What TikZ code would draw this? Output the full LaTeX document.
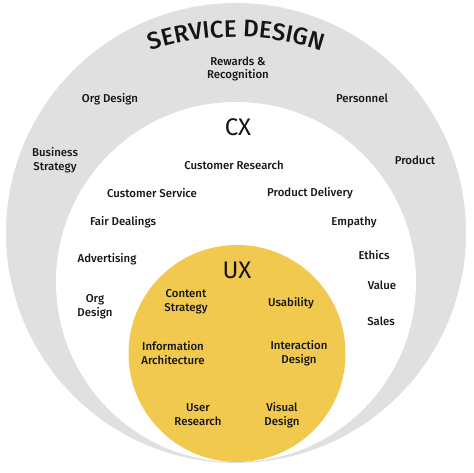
\documentclass[tikz,border=0pt]{standalone}
\usepackage{fontspec}
\setmainfont{Fira Sans}
\newfontfamily\medfont{Fira Sans Medium}
\usetikzlibrary{decorations.text}
\definecolor{sdgray}{HTML}{E0E0E0}
\definecolor{uxyellow}{HTML}{F1C94F}
\definecolor{ink}{HTML}{151515}
\begin{document}
\begin{tikzpicture}[x=1pt,y=1pt,
  lbl/.style={font=\medfont\fontsize{11.4}{13.8}\selectfont, align=center, text=ink, inner sep=0pt},
  big/.style={font=\fontsize{24}{26}\selectfont, text=ink, inner sep=0pt}]
\useasboundingbox (0,0) rectangle (474,472);
% circles
\fill[sdgray] (236,239) circle[radius=230pt];
\fill[white] (236,190) circle[radius=180pt];
\fill[uxyellow] (237,118.5) circle[radius=108.5pt];
% curved title
\path[decorate, decoration={text along path, text align=center,
  text={|\medfont\fontsize{24}{26}\selectfont\color{ink}|SERVICE DESIGN}}]
  (236,166) ++(120:269pt) arc[start angle=120, end angle=60, radius=269pt];
% CX ring labels
\node[lbl] (rr) at (238,403) {Rewards \&\\Recognition};
\node[lbl] (od) at (110,373) {Org Design};
\node[lbl] (pe) at (362,374) {Personnel};
\node[lbl] (bs) at (55,312) {Business\\Strategy};
\node[lbl] (pr) at (415,312) {Product};
\node[big] (cx) at (238,345) {CX};
% CX labels
\node[lbl] (crs) at (234,307) {Customer Research};
\node[lbl] (cs) at (152,279) {Customer Service};
\node[lbl] (pd) at (310,279) {Product Delivery};
\node[lbl] (fd) at (123,250) {Fair Dealings};
\node[lbl] (em) at (354,250) {Empathy};
\node[lbl] (ad) at (107,213) {Advertising};
\node[lbl] (et) at (374,217) {Ethics};
\node[lbl] (va) at (382,187) {Value};
\node[lbl] (od2) at (95,165) {Org\\Design};
\node[lbl] (sa) at (381,151) {Sales};
% UX
\node[big] (ux) at (237,202) {UX};
\node[lbl] (cst) at (186,170) {Content\\Strategy};
\node[lbl] (us) at (291,169) {Usability};
\node[lbl] (ia) at (173,119) {Information\\Architecture};
\node[lbl] (id) at (299,119) {Interaction\\Design};
\node[lbl] (ur) at (198,57) {User\\Research};
\node[lbl] (vd) at (282,57) {Visual\\Design};
\end{tikzpicture}
\end{document}
